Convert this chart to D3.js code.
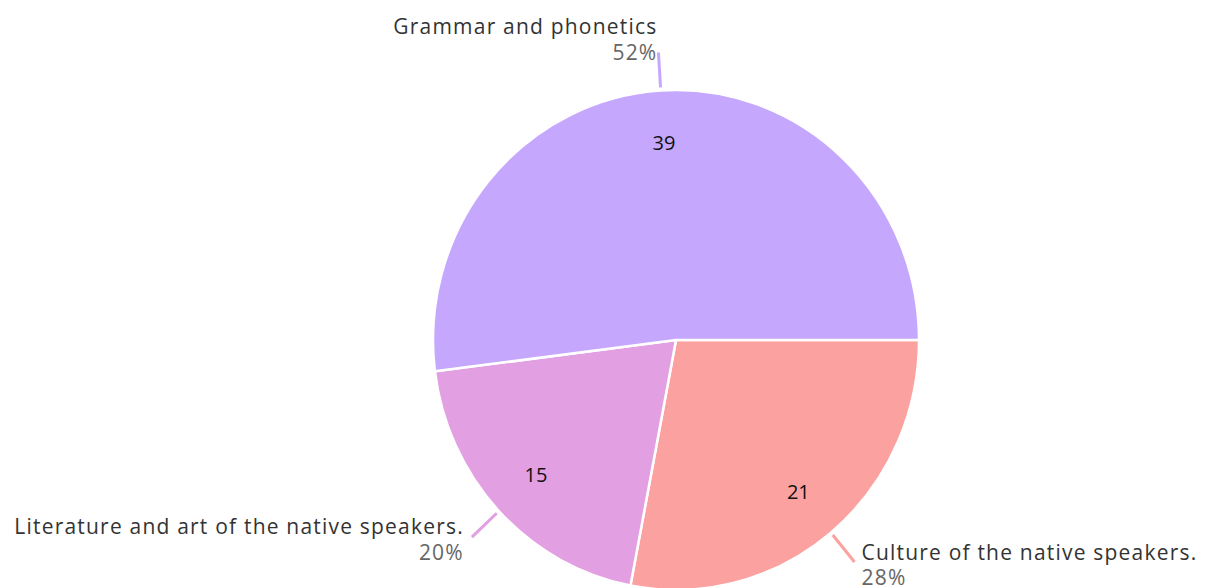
<!DOCTYPE html>
<html>
<head>
<meta charset="utf-8">
<script src="https://cdn.jsdelivr.net/npm/d3@7"></script>
<style>
  body { margin: 0; background: #fff; }
  text { font-family: "Open Sans", Lato, sans-serif; }
  .lab text { letter-spacing: 1.2px; }
</style>
</head>
<body>
<div id="chart"></div>
<script>
// slices in drawing order, clockwise from 3 o'clock
const categories = ["Culture of the native speakers.", "Literature and art of the native speakers.", "Grammar and phonetics"];
const counts = [21, 15, 39];
const colors = ["#fba1a0", "#e29fe2", "#c6a7fe"];

const width = 1205, height = 588;
const cx = 676, cy = 340;
const rx = 243, ry = 250;

const data = categories.map((c, i) => ({ name: c, value: counts[i], color: colors[i] }));
const total = d3.sum(counts);

const svg = d3.select("#chart")
    .append("svg")
    .attr("width", width)
    .attr("height", height);

const pie = d3.pie()
    .sort(null)
    .value(d => d.value)
    .startAngle(Math.PI / 2)
    .endAngle(Math.PI / 2 + 2 * Math.PI);

const arcs = pie(data);

const arc = d3.arc().innerRadius(0).outerRadius(rx);

// slightly taller than wide, like the reference
const g = svg.append("g")
    .attr("transform", `translate(${cx},${cy}) scale(1,${ry / rx})`);

g.selectAll("path")
    .data(arcs)
    .join("path")
    .attr("d", arc)
    .attr("fill", d => d.data.color)
    .attr("stroke", "#fff")
    .attr("stroke-width", 2.5);

function pt(a, r) {
    return [cx + Math.sin(a) * r, cy - Math.cos(a) * r * ry / rx];
}

const mid = d => (d.startAngle + d.endAngle) / 2;

// value labels inside
svg.selectAll(".val")
    .data(arcs)
    .join("text")
    .attr("class", "val")
    .attr("x", d => pt(mid(d), 0.79 * rx)[0])
    .attr("y", d => pt(mid(d), 0.79 * rx)[1])
    .attr("dy", "0.35em")
    .attr("text-anchor", "middle")
    .attr("font-size", 20)
    .attr("fill", "#111")
    .text(d => d.data.value);

// leader lines
svg.selectAll(".lead")
    .data(arcs)
    .join("line")
    .attr("class", "lead")
    .attr("x1", d => pt(mid(d), rx + 3)[0])
    .attr("y1", d => pt(mid(d), rx + 3)[1])
    .attr("x2", d => pt(mid(d), rx + 37)[0])
    .attr("y2", d => pt(mid(d), rx + 37)[1])
    .attr("stroke", d => d.data.color)
    .attr("stroke-width", 3);

// outer labels
svg.selectAll(".lab")
    .data(arcs)
    .join("g")
    .attr("class", "lab")
    .each(function(d) {
        const a = mid(d);
        const [ex, ey] = pt(a, rx + 37);
        const s = Math.sin(a);
        let x, y1, y2, anchor;
        if (Math.abs(s) < 0.3) {
            anchor = "end"; x = ex - 1; y1 = ey - 19; y2 = ey + 7;
        } else if (s < 0) {
            anchor = "end"; x = ex - 8; y1 = ey - 3; y2 = ey + 23;
        } else {
            anchor = "start"; x = ex + 7; y1 = ey - 2; y2 = ey + 23;
        }
        const el = d3.select(this);
        el.append("text")
            .attr("x", x).attr("y", y1)
            .attr("text-anchor", anchor)
            .attr("font-size", 21)
            .attr("fill", "#333")
            .text(d.data.name);
        el.append("text")
            .attr("x", x).attr("y", y2)
            .attr("text-anchor", anchor)
            .attr("font-size", 21)
            .attr("fill", "#666")
            .text(Math.round(d.data.value / total * 100) + "%");
    });
</script>
</body>
</html>
